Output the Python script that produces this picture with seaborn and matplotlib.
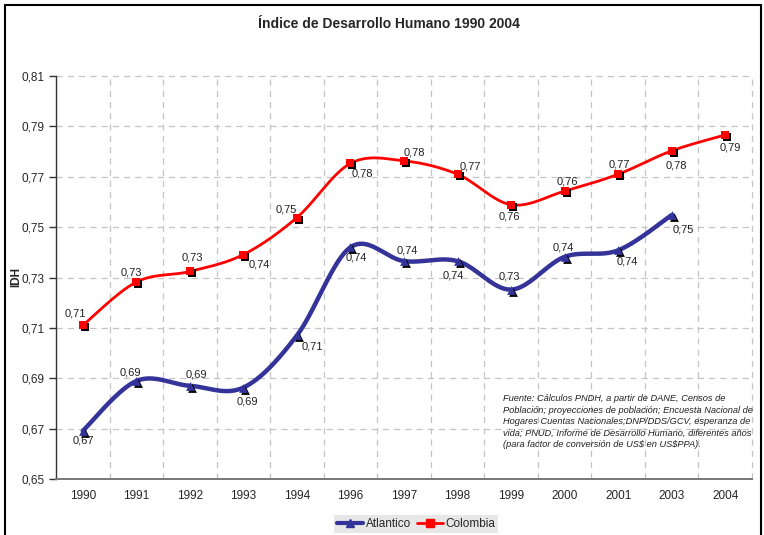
import numpy as np
import pandas as pd
import seaborn as sns
import matplotlib
matplotlib.use("Agg")
import matplotlib.pyplot as plt
from matplotlib.lines import Line2D
from matplotlib.patches import Rectangle
from matplotlib.transforms import offset_copy

# ---------------- data ----------------
years = ["1990", "1991", "1992", "1993", "1994", "1996", "1997",
         "1998", "1999", "2000", "2001", "2003", "2004"]
colombia = [0.7110, 0.7282, 0.7324, 0.7391, 0.7538, 0.7753, 0.7763,
            0.7710, 0.7589, 0.7643, 0.7710, 0.7803, 0.7866]
atlantico = [0.6691, 0.6889, 0.6870, 0.6863, 0.7070, 0.7420, 0.7365,
             0.7365, 0.7252, 0.7382, 0.7408, 0.7548]
y_ticks = [0.65, 0.67, 0.69, 0.71, 0.73, 0.75, 0.77, 0.79, 0.81]
title = "Índice de Desarrollo Humano 1990 2004"
source_text = ("Fuente: Cálculos PNDH, a partir de DANE, Censos de\n"
               "Población; proyecciones de población; Encuesta Nacional de\n"
               "Hogares Cuentas Nacionales;DNP/DDS/GCV, esperanza de\n"
               "vida; PNUD, Informe de Desarrollo Humano, diferentes años\n"
               "(para factor de conversión de US\\$ en US\\$PPA).")

# label offsets (pixels: dx right, dy up)
col_off = [(-7, 12), (-5, 10), (3, 14), (16, -10), (-11, 8), (12, -10), (10, 8),
           (13, 8), (-2, -12), (3, 10), (1, 10), (5, -15), (5, -13)]
atl_off = [(1, -10), (-6, 9), (7, 11), (4, -14), (15, -11), (6, -10), (3, 11),
           (-4, -14), (-2, 13), (-1, 9), (9, -11), (12, -14)]

RED = "#FF0000"
NAVY = "#333399"


def smooth(xs, ys, n=40):
    pts = np.column_stack([xs, ys]).astype(float)
    out = []
    for i in range(len(pts) - 1):
        p0 = pts[i - 1] if i > 0 else pts[i]
        p1, p2 = pts[i], pts[i + 1]
        p3 = pts[i + 2] if i + 2 < len(pts) else pts[i + 1]
        c1 = p1 + (p2 - p0) / 6.0
        c2 = p2 - (p3 - p1) / 6.0
        t = np.linspace(0, 1, n)[:, None]
        seg = (1 - t) ** 3 * p1 + 3 * (1 - t) ** 2 * t * c1 + 3 * (1 - t) * t ** 2 * c2 + t ** 3 * p2
        out.append(seg if i == 0 else seg[1:])
    return np.vstack(out)


sns.set_style("white")
plt.rcParams["font.family"] = ["Liberation Sans", "DejaVu Sans"]

fig = plt.figure(figsize=(7.64, 5.35), dpi=100)
ax = fig.add_axes([56 / 764, 1 - 479 / 535, (752 - 56) / 764, (479 - 76) / 535])

x_col = np.arange(len(colombia))
x_atl = np.arange(len(atlantico))

# smoothed lines
cc = smooth(x_col, colombia)
ca = smooth(x_atl, atlantico)
sns.lineplot(x=ca[:, 0], y=ca[:, 1], sort=False, estimator=None, color=NAVY,
             linewidth=3.2, ax=ax, zorder=3)
sns.lineplot(x=cc[:, 0], y=cc[:, 1], sort=False, estimator=None, color=RED,
             linewidth=2.0, ax=ax, zorder=3)

# markers with shadow
shadow_tr = offset_copy(ax.transData, fig=fig, x=2, y=-2, units="dots")
sns.scatterplot(x=x_atl, y=atlantico, marker="^", color="black", s=40,
                linewidth=0, ax=ax, zorder=4)
ax.collections[-1].set_offset_transform(shadow_tr)
sns.scatterplot(x=x_atl, y=atlantico, marker="^", color=NAVY, s=40,
                linewidth=0, ax=ax, zorder=5)
sns.scatterplot(x=x_col, y=colombia, marker="s", color="black", s=38,
                linewidth=0, ax=ax, zorder=4)
ax.collections[-1].set_offset_transform(shadow_tr)
sns.scatterplot(x=x_col, y=colombia, marker="s", color=RED, s=38,
                linewidth=0, ax=ax, zorder=5)

# data labels
px2pt = 72 / 100
for xi, v, (dx, dy) in zip(x_col, colombia, col_off):
    ax.annotate(f"{v:.2f}".replace(".", ","), (xi, v),
                xytext=(dx * px2pt, dy * px2pt), textcoords="offset points",
                ha="center", va="center", fontsize=8, color="#222222", zorder=6)
for xi, v, (dx, dy) in zip(x_atl, atlantico, atl_off):
    ax.annotate(f"{v:.2f}".replace(".", ","), (xi, v),
                xytext=(dx * px2pt, dy * px2pt), textcoords="offset points",
                ha="center", va="center", fontsize=8, color="#222222", zorder=6)

# axes
ax.set_xlim(-0.5, len(years) - 0.5)
ax.set_ylim(0.65, 0.81)
ax.set_xticks(np.arange(len(years)))
ax.set_xticklabels(years, fontsize=8.5)
ax.set_xticks(np.arange(-0.5, len(years)), minor=True)
ax.set_yticks(y_ticks)
ax.set_yticklabels([f"{v:.2f}".replace(".", ",") for v in y_ticks], fontsize=8.5)
ax.tick_params(axis="x", which="major", length=0, pad=8)
ax.tick_params(axis="x", which="minor", length=5, direction="inout", color="#555555", width=1)
ax.tick_params(axis="y", which="major", length=5, direction="out", color="#333333", width=1, pad=3)
ax.tick_params(left=True)

ax.grid(False)
for v in y_ticks[1:]:
    ax.axhline(v, color="#c4c4c4", linestyle=(0, (5, 4)), linewidth=0.9, zorder=1, clip_on=False)
for xv in np.arange(0.5, len(years) + 0.5, 1.0):
    ax.axvline(xv, color="#c4c4c4", linestyle=(0, (5, 4)), linewidth=0.9, zorder=1, clip_on=False)

for s in ["top", "right"]:
    ax.spines[s].set_visible(False)
ax.spines["left"].set_color("#333333")
ax.spines["left"].set_linewidth(1.0)
ax.spines["bottom"].set_color("#777777")
ax.spines["bottom"].set_linewidth(1.4)

ax.set_xlabel("")
ax.set_ylabel("IDH", fontsize=8.5, fontweight="bold")
ax.yaxis.set_label_coords((22 - 56) / 696, 0.5)

# title
fig.text(389 / 764, 1 - 24 / 535, title, ha="center", va="center",
         fontsize=10, fontweight="bold")

# source text
ax.text(503 / 764, 1 - 394 / 535, source_text, transform=fig.transFigure,
        ha="left", va="top", fontsize=6.7, style="italic", color="#222222",
        linespacing=1.36, zorder=7)

# legend
handles = [Line2D([0], [0], color=NAVY, lw=3, marker="^", markersize=6,
                  markerfacecolor=NAVY, markeredgecolor=NAVY),
           Line2D([0], [0], color=RED, lw=2, marker="s", markersize=6,
                  markerfacecolor=RED, markeredgecolor=RED)]
leg = fig.legend(handles, ["Atlantico", "Colombia"], loc="center",
                 bbox_to_anchor=(416 / 764, 1 - 524 / 535), ncol=2,
                 frameon=True, fontsize=8.5, handlelength=2.2, handletextpad=0.2,
                 columnspacing=0.5, borderpad=0.25, fancybox=False)
leg.get_frame().set_facecolor("#e2e2e2")
leg.get_frame().set_edgecolor("none")

# outer border
fig.patches.append(Rectangle((5 / 764, -0.05), (761 - 5) / 764, 1.05 - 5 / 535,
                             transform=fig.transFigure, fill=False,
                             edgecolor="black", linewidth=1.5))

fig.savefig("out.png", dpi=100)
